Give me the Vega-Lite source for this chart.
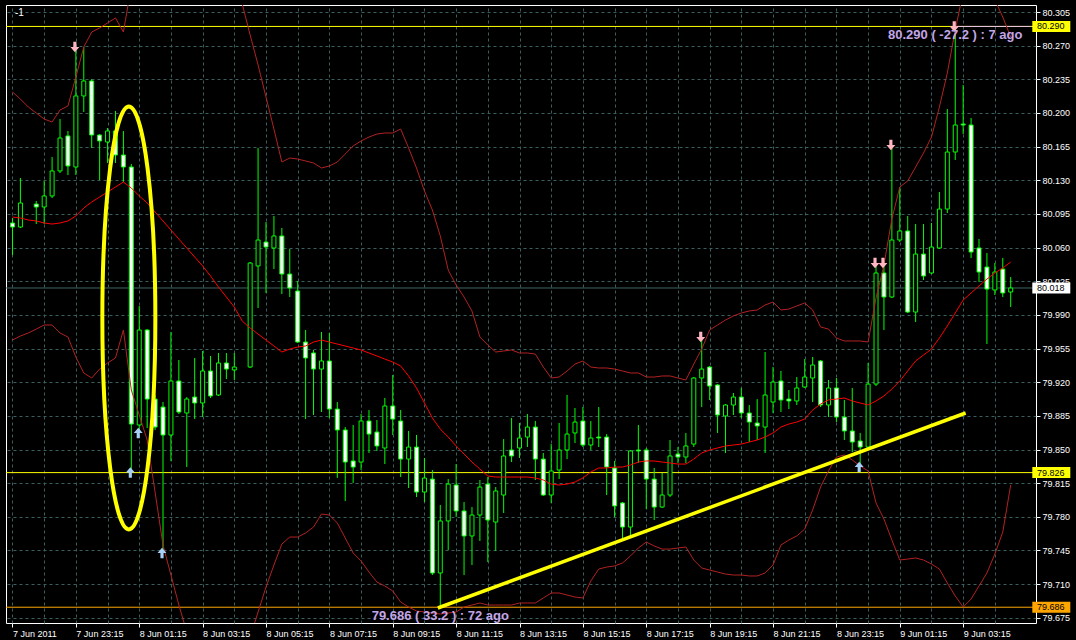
{
"$schema":"https://vega.github.io/schema/vega-lite/v6.json",
"width":1030,"height":618,
"autosize":{"type":"none"},
"padding":{"left":6,"top":5,"right":40,"bottom":17},
"background":"#000000",
"config":{"view":{"stroke":"#FFFFFF","strokeWidth":1,"fill":"#000000"}},
"datasets":{
"c":[
{"t":"2011-06-07T21:15","o":80.0856,"h":80.0908,"l":80.0523,"c":80.0814,"u":80.2218,"m":80.0918,"b":79.9639},
{"t":"2011-06-07T21:30","o":80.0814,"h":80.1324,"l":80.0804,"c":80.1064,"u":80.2145,"m":80.0908,"b":79.9681},
{"t":"2011-06-07T21:45","o":null,"h":null,"l":null,"c":null,"u":80.2062,"m":80.0887,"b":79.9712},
{"t":"2011-06-07T22:00","o":80.1053,"h":80.1085,"l":80.0845,"c":80.1022,"u":80.2,"m":80.0877,"b":79.9753},
{"t":"2011-06-07T22:15","o":80.1022,"h":80.1293,"l":80.0845,"c":80.1137,"u":80.1937,"m":80.0856,"b":79.9795},
{"t":"2011-06-07T22:30","o":80.1137,"h":80.1542,"l":80.1116,"c":80.1397,"u":80.1906,"m":80.0845,"b":79.9795},
{"t":"2011-06-07T22:45","o":80.1397,"h":80.1937,"l":80.1376,"c":80.174,"u":80.2031,"m":80.0856,"b":79.9712},
{"t":"2011-06-07T23:00","o":80.1761,"h":80.1813,"l":80.1355,"c":80.1449,"u":80.2073,"m":80.0877,"b":79.967},
{"t":"2011-06-07T23:15","o":80.1438,"h":80.2686,"l":80.1355,"c":80.2177,"u":80.2374,"m":80.0929,"b":79.9462},
{"t":"2011-06-07T23:30","o":80.2177,"h":80.2686,"l":80.201,"c":80.2333,"u":80.2686,"m":80.1012,"b":79.9296},
{"t":"2011-06-07T23:45","o":80.2333,"h":80.2353,"l":80.1636,"c":80.1771,"u":80.2842,"m":80.1074,"b":79.9244},
{"t":"2011-06-08T00:00","o":80.1771,"h":80.1781,"l":80.1303,"c":80.1709,"u":80.2884,"m":80.1126,"b":79.9337},
{"t":"2011-06-08T00:15","o":80.1698,"h":80.1844,"l":80.148,"c":80.1813,"u":80.2936,"m":80.1178,"b":79.94},
{"t":"2011-06-08T00:30","o":80.1813,"h":80.2021,"l":80.148,"c":80.1563,"u":80.2988,"m":80.123,"b":79.9452},
{"t":"2011-06-08T00:45","o":80.1563,"h":80.1813,"l":80.1282,"c":80.1438,"u":80.2842,"m":80.1282,"b":79.9743},
{"t":"2011-06-08T01:00","o":80.1438,"h":80.1469,"l":79.826,"c":79.8765,"u":80.3321,"m":80.122,"b":79.9119},
{"t":"2011-06-08T01:15","o":79.8755,"h":79.9993,"l":79.8672,"c":79.9743,"u":80.3445,"m":80.1137,"b":79.8859},
{"t":"2011-06-08T01:30","o":79.9743,"h":79.9753,"l":79.8724,"c":79.9025,"u":80.3539,"m":80.1064,"b":79.8599},
{"t":"2011-06-08T01:45","o":79.9025,"h":79.9067,"l":79.8703,"c":79.8734,"u":80.3851,"m":80.097,"b":79.8058},
{"t":"2011-06-08T02:00","o":79.8942,"h":79.8994,"l":79.7424,"c":79.8651,"u":80.4215,"m":80.0877,"b":79.7507},
{"t":"2011-06-08T02:15","o":79.8651,"h":79.9722,"l":79.8381,"c":79.9213,"u":80.4319,"m":80.0783,"b":79.7195},
{"t":"2011-06-08T02:30","o":79.9213,"h":79.9431,"l":79.8869,"c":79.889,"u":80.4423,"m":80.0689,"b":79.6883},
{"t":"2011-06-08T02:45","o":79.888,"h":79.9046,"l":79.8318,"c":79.9025,"u":80.4506,"m":80.0596,"b":79.6602},
{"t":"2011-06-08T03:00","o":79.9046,"h":79.9452,"l":79.8817,"c":79.8984,"u":80.4475,"m":80.0502,"b":79.6467},
{"t":"2011-06-08T03:15","o":79.8984,"h":79.9525,"l":79.8838,"c":79.9317,"u":80.4371,"m":80.0409,"b":79.6363},
{"t":"2011-06-08T03:30","o":79.9317,"h":79.9473,"l":79.9036,"c":79.9057,"u":80.4215,"m":80.0305,"b":79.6311},
{"t":"2011-06-08T03:45","o":79.9067,"h":79.9504,"l":79.9057,"c":79.94,"u":80.4007,"m":80.019,"b":79.6311},
{"t":"2011-06-08T04:00","o":79.94,"h":79.9504,"l":79.9233,"c":79.9337,"u":80.3747,"m":80.0086,"b":79.6363},
{"t":"2011-06-08T04:15","o":79.9327,"h":79.9504,"l":79.9223,"c":79.9358,"u":80.3435,"m":79.9982,"b":79.6436},
{"t":"2011-06-08T04:30","o":null,"h":null,"l":null,"c":null,"u":80.3133,"m":79.9837,"b":79.6519},
{"t":"2011-06-08T04:45","o":79.9358,"h":80.045,"l":79.9348,"c":80.044,"u":80.2811,"m":79.9764,"b":79.655},
{"t":"2011-06-08T05:00","o":80.0409,"h":80.1636,"l":79.9972,"c":80.0679,"u":80.2499,"m":79.9701,"b":79.681},
{"t":"2011-06-08T05:15","o":80.0658,"h":80.0866,"l":80.0128,"c":80.0606,"u":80.2166,"m":79.9639,"b":79.707},
{"t":"2011-06-08T05:30","o":80.0596,"h":80.0929,"l":80.0377,"c":80.0721,"u":80.1833,"m":79.9577,"b":79.7299},
{"t":"2011-06-08T05:45","o":80.0721,"h":80.0804,"l":80.0117,"c":80.0325,"u":80.149,"m":79.9514,"b":79.7517},
{"t":"2011-06-08T06:00","o":80.0325,"h":80.0585,"l":80.0086,"c":80.018,"u":80.1532,"m":79.9545,"b":79.759},
{"t":"2011-06-08T06:15","o":80.0149,"h":80.0253,"l":79.9608,"c":79.9618,"u":80.1521,"m":79.9566,"b":79.759},
{"t":"2011-06-08T06:30","o":79.9618,"h":79.9743,"l":79.8817,"c":79.9452,"u":80.1501,"m":79.9577,"b":79.7632},
{"t":"2011-06-08T06:45","o":79.9504,"h":79.9535,"l":79.8859,"c":79.9337,"u":80.148,"m":79.9618,"b":79.7694},
{"t":"2011-06-08T07:00","o":79.9337,"h":79.9722,"l":79.889,"c":79.9421,"u":80.1428,"m":79.9639,"b":79.7829},
{"t":"2011-06-08T07:15","o":79.9421,"h":79.9712,"l":79.8828,"c":79.8921,"u":80.1449,"m":79.9618,"b":79.7819},
{"t":"2011-06-08T07:30","o":79.8921,"h":79.8994,"l":79.8204,"c":79.8703,"u":80.149,"m":79.9597,"b":79.7736},
{"t":"2011-06-08T07:45","o":79.8703,"h":79.8734,"l":79.7965,"c":79.837,"u":80.1573,"m":79.9577,"b":79.758},
{"t":"2011-06-08T08:00","o":79.8381,"h":79.8755,"l":79.8152,"c":79.8318,"u":80.1657,"m":79.9556,"b":79.7424},
{"t":"2011-06-08T08:15","o":79.837,"h":79.8869,"l":79.8287,"c":79.8797,"u":80.1709,"m":79.9535,"b":79.7341},
{"t":"2011-06-08T08:30","o":79.8797,"h":79.8911,"l":79.8464,"c":79.8661,"u":80.175,"m":79.9504,"b":79.7226},
{"t":"2011-06-08T08:45","o":79.8682,"h":79.8807,"l":79.8485,"c":79.8537,"u":80.1781,"m":79.9473,"b":79.7122},
{"t":"2011-06-08T09:00","o":79.8516,"h":79.9036,"l":79.8349,"c":79.8953,"u":80.1792,"m":79.9441,"b":79.7081},
{"t":"2011-06-08T09:15","o":79.8953,"h":79.9275,"l":79.8651,"c":79.8817,"u":80.1792,"m":79.941,"b":79.7029},
{"t":"2011-06-08T09:30","o":79.8797,"h":79.8911,"l":79.8214,"c":79.8401,"u":80.1833,"m":79.9369,"b":79.6914},
{"t":"2011-06-08T09:45","o":79.8401,"h":79.8693,"l":79.81,"c":79.8526,"u":80.1636,"m":79.9265,"b":79.6862},
{"t":"2011-06-08T10:00","o":79.8526,"h":79.8651,"l":79.8006,"c":79.8058,"u":80.1428,"m":79.914,"b":79.6821},
{"t":"2011-06-08T10:15","o":79.8058,"h":79.8412,"l":79.7954,"c":79.8204,"u":80.1189,"m":79.8984,"b":79.681},
{"t":"2011-06-08T10:30","o":79.8193,"h":79.8287,"l":79.7195,"c":79.7216,"u":80.0991,"m":79.8828,"b":79.68},
{"t":"2011-06-08T10:45","o":79.7216,"h":79.7923,"l":79.686,"c":79.7757,"u":80.0721,"m":79.8713,"b":79.6789},
{"t":"2011-06-08T11:00","o":79.7757,"h":79.8193,"l":79.7455,"c":79.8141,"u":80.0367,"m":79.863,"b":79.68},
{"t":"2011-06-08T11:15","o":79.8131,"h":79.8349,"l":79.7798,"c":79.7861,"u":80.0211,"m":79.8537,"b":79.681},
{"t":"2011-06-08T11:30","o":79.7861,"h":79.7954,"l":79.7195,"c":79.7601,"u":80.0086,"m":79.8453,"b":79.6862},
{"t":"2011-06-08T11:45","o":79.7601,"h":79.7902,"l":79.7299,"c":79.7819,"u":79.9941,"m":79.837,"b":79.6883},
{"t":"2011-06-08T12:00","o":79.7819,"h":79.8183,"l":79.7549,"c":79.811,"u":79.967,"m":79.8297,"b":79.6904},
{"t":"2011-06-08T12:15","o":79.8141,"h":79.8214,"l":79.733,"c":79.7767,"u":79.9587,"m":79.8225,"b":79.6883},
{"t":"2011-06-08T12:30","o":79.7746,"h":79.811,"l":79.7445,"c":79.8069,"u":79.9514,"m":79.8214,"b":79.6883},
{"t":"2011-06-08T12:45","o":79.8027,"h":79.8609,"l":79.784,"c":79.8433,"u":79.9525,"m":79.8214,"b":79.6883},
{"t":"2011-06-08T13:00","o":79.8495,"h":79.8828,"l":79.837,"c":79.8433,"u":79.9535,"m":79.8214,"b":79.6883},
{"t":"2011-06-08T13:15","o":79.8516,"h":79.8776,"l":79.8412,"c":79.862,"u":79.9504,"m":79.8214,"b":79.6904},
{"t":"2011-06-08T13:30","o":79.863,"h":79.8869,"l":79.8526,"c":79.8734,"u":79.9504,"m":79.8214,"b":79.6904},
{"t":"2011-06-08T13:45","o":79.8734,"h":79.8797,"l":79.8183,"c":79.8401,"u":79.9493,"m":79.8204,"b":79.6904},
{"t":"2011-06-08T14:00","o":79.8401,"h":79.8464,"l":79.8017,"c":79.8027,"u":79.9358,"m":79.8183,"b":79.6956},
{"t":"2011-06-08T14:15","o":79.8027,"h":79.8557,"l":79.7944,"c":79.8277,"u":79.9244,"m":79.8141,"b":79.7008},
{"t":"2011-06-08T14:30","o":79.8287,"h":79.8776,"l":79.8193,"c":79.8495,"u":79.9254,"m":79.8131,"b":79.7008},
{"t":"2011-06-08T14:45","o":79.8495,"h":79.9067,"l":79.8401,"c":79.8661,"u":79.9317,"m":79.8141,"b":79.6987},
{"t":"2011-06-08T15:00","o":79.8672,"h":79.8932,"l":79.8568,"c":79.8786,"u":79.9389,"m":79.8162,"b":79.6966},
{"t":"2011-06-08T15:15","o":79.8797,"h":79.8942,"l":79.8526,"c":79.8547,"u":79.9421,"m":79.8204,"b":79.6956},
{"t":"2011-06-08T15:30","o":79.8547,"h":79.8797,"l":79.8495,"c":79.862,"u":79.9358,"m":79.8266,"b":79.7133},
{"t":"2011-06-08T15:45","o":79.863,"h":79.8942,"l":79.8526,"c":79.862,"u":79.9348,"m":79.8308,"b":79.7257},
{"t":"2011-06-08T16:00","o":79.863,"h":79.8661,"l":79.8027,"c":79.8318,"u":79.9348,"m":79.8308,"b":79.7278},
{"t":"2011-06-08T16:15","o":79.8308,"h":79.8381,"l":79.7798,"c":79.7913,"u":79.9337,"m":79.8318,"b":79.7289},
{"t":"2011-06-08T16:30","o":79.7944,"h":79.7954,"l":79.7559,"c":79.7694,"u":79.9317,"m":79.8318,"b":79.732},
{"t":"2011-06-08T16:45","o":79.7694,"h":79.8495,"l":79.759,"c":79.8485,"u":79.9296,"m":79.8339,"b":79.7393},
{"t":"2011-06-08T17:00","o":79.8495,"h":79.8755,"l":79.836,"c":79.8485,"u":79.9296,"m":79.837,"b":79.7476},
{"t":"2011-06-08T17:15","o":79.8495,"h":79.8516,"l":79.7881,"c":79.8193,"u":79.9254,"m":79.8381,"b":79.7538},
{"t":"2011-06-08T17:30","o":79.8193,"h":79.8308,"l":79.7767,"c":79.7902,"u":79.9254,"m":79.8381,"b":79.7497},
{"t":"2011-06-08T17:45","o":79.7902,"h":79.8256,"l":79.7892,"c":79.8027,"u":79.9265,"m":79.837,"b":79.7465},
{"t":"2011-06-08T18:00","o":79.8027,"h":79.8599,"l":79.8006,"c":79.8433,"u":79.9265,"m":79.836,"b":79.7465},
{"t":"2011-06-08T18:15","o":79.8453,"h":79.8526,"l":79.836,"c":79.8422,"u":79.9244,"m":79.8349,"b":79.7476},
{"t":"2011-06-08T18:30","o":79.8422,"h":79.8672,"l":79.836,"c":79.8537,"u":79.9223,"m":79.8349,"b":79.7486},
{"t":"2011-06-08T18:45","o":79.8557,"h":79.9254,"l":79.8526,"c":79.9244,"u":79.9389,"m":79.8401,"b":79.7351},
{"t":"2011-06-08T19:00","o":79.9244,"h":79.967,"l":79.8942,"c":79.9337,"u":79.9545,"m":79.8464,"b":79.7268},
{"t":"2011-06-08T19:15","o":79.9358,"h":79.9369,"l":79.9015,"c":79.916,"u":79.9743,"m":79.8495,"b":79.7247},
{"t":"2011-06-08T19:30","o":79.9171,"h":79.9181,"l":79.8672,"c":79.8859,"u":79.9795,"m":79.8516,"b":79.7226},
{"t":"2011-06-08T19:45","o":79.8849,"h":79.8973,"l":79.8464,"c":79.8963,"u":79.9847,"m":79.8537,"b":79.7205},
{"t":"2011-06-08T20:00","o":79.8963,"h":79.9088,"l":79.8859,"c":79.9046,"u":79.9889,"m":79.8547,"b":79.7195},
{"t":"2011-06-08T20:15","o":79.9046,"h":79.914,"l":79.8828,"c":79.888,"u":79.992,"m":79.8557,"b":79.7195},
{"t":"2011-06-08T20:30","o":79.888,"h":79.8963,"l":79.8578,"c":79.8786,"u":79.9941,"m":79.8578,"b":79.7185},
{"t":"2011-06-08T20:45","o":79.8776,"h":79.9025,"l":79.8599,"c":79.8745,"u":79.9951,"m":79.8599,"b":79.7185},
{"t":"2011-06-08T21:00","o":79.8734,"h":79.9514,"l":79.8464,"c":79.9067,"u":80.0003,"m":79.863,"b":79.7216},
{"t":"2011-06-08T21:15","o":79.8994,"h":79.9358,"l":79.888,"c":79.9202,"u":80.0034,"m":79.8672,"b":79.7299},
{"t":"2011-06-08T21:30","o":79.9213,"h":79.9317,"l":79.889,"c":79.9015,"u":79.9951,"m":79.8734,"b":79.7507},
{"t":"2011-06-08T21:45","o":79.9025,"h":79.9119,"l":79.8921,"c":79.9005,"u":79.9961,"m":79.8765,"b":79.7559},
{"t":"2011-06-08T22:00","o":79.9005,"h":79.9254,"l":79.8963,"c":79.914,"u":79.9993,"m":79.8786,"b":79.7601},
{"t":"2011-06-08T22:15","o":79.915,"h":79.9441,"l":79.914,"c":79.9254,"u":80.0024,"m":79.8817,"b":79.7673},
{"t":"2011-06-08T22:30","o":79.9244,"h":79.9462,"l":79.8994,"c":79.9379,"u":79.9951,"m":79.8911,"b":79.7871},
{"t":"2011-06-08T22:45","o":79.9421,"h":79.9431,"l":79.8942,"c":79.8963,"u":79.9774,"m":79.8973,"b":79.811},
{"t":"2011-06-08T23:00","o":79.8963,"h":79.9223,"l":79.8838,"c":79.914,"u":79.9753,"m":79.9015,"b":79.8277},
{"t":"2011-06-08T23:15","o":79.914,"h":79.9244,"l":79.8786,"c":79.8838,"u":79.966,"m":79.9025,"b":79.8422},
{"t":"2011-06-08T23:30","o":79.8838,"h":79.9015,"l":79.8599,"c":79.8693,"u":79.9629,"m":79.9036,"b":79.8443},
{"t":"2011-06-08T23:45","o":79.8693,"h":79.914,"l":79.8474,"c":79.8578,"u":79.9629,"m":79.9005,"b":79.8391},
{"t":"2011-06-09T00:00","o":79.8589,"h":79.8672,"l":79.8318,"c":79.8526,"u":79.9629,"m":79.8984,"b":79.8329},
{"t":"2011-06-09T00:15","o":79.8526,"h":79.94,"l":79.8495,"c":79.9181,"u":79.9618,"m":79.8963,"b":79.8277},
{"t":"2011-06-09T00:30","o":79.9181,"h":80.044,"l":79.916,"c":80.0336,"u":80.0076,"m":79.9005,"b":79.7944},
{"t":"2011-06-09T00:45","o":80.0336,"h":80.044,"l":79.9743,"c":80.0086,"u":80.0419,"m":79.9057,"b":79.7777},
{"t":"2011-06-09T01:00","o":80.0086,"h":80.1667,"l":80.0076,"c":80.0679,"u":80.0897,"m":79.9129,"b":79.7559},
{"t":"2011-06-09T01:15","o":80.0679,"h":80.123,"l":80.0658,"c":80.0773,"u":80.123,"m":79.9213,"b":79.7351},
{"t":"2011-06-09T01:30","o":80.0773,"h":80.0929,"l":79.992,"c":79.993,"u":80.1293,"m":79.9317,"b":79.7361},
{"t":"2011-06-09T01:45","o":79.993,"h":80.0845,"l":79.9826,"c":80.0533,"u":80.1438,"m":79.9421,"b":79.7372},
{"t":"2011-06-09T02:00","o":80.0533,"h":80.0845,"l":80.0263,"c":80.0305,"u":80.1584,"m":79.9483,"b":79.7351},
{"t":"2011-06-09T02:15","o":80.0336,"h":80.0856,"l":80.0325,"c":80.0606,"u":80.175,"m":79.9545,"b":79.7309},
{"t":"2011-06-09T02:30","o":80.0596,"h":80.1178,"l":80.0585,"c":80.1001,"u":80.2062,"m":79.966,"b":79.7257},
{"t":"2011-06-09T02:45","o":80.1001,"h":80.2041,"l":80.096,"c":80.1594,"u":80.2416,"m":79.9785,"b":79.7112},
{"t":"2011-06-09T03:00","o":80.1594,"h":80.29,"l":80.1511,"c":80.1875,"u":80.2863,"m":79.992,"b":79.6977},
{"t":"2011-06-09T03:15","o":80.1885,"h":80.2291,"l":80.1781,"c":80.1875,"u":80.3258,"m":80.0055,"b":79.6862},
{"t":"2011-06-09T03:30","o":80.1875,"h":80.1948,"l":80.0492,"c":80.0554,"u":80.3383,"m":80.0128,"b":79.6945},
{"t":"2011-06-09T03:45","o":80.0596,"h":80.0689,"l":80.0242,"c":80.0346,"u":80.3404,"m":80.0201,"b":79.7081},
{"t":"2011-06-09T04:00","o":80.0398,"h":80.0544,"l":79.9597,"c":80.0169,"u":80.3331,"m":80.0273,"b":79.7216},
{"t":"2011-06-09T04:15","o":80.0159,"h":80.044,"l":80.0107,"c":80.0346,"u":80.3175,"m":80.0336,"b":79.7413},
{"t":"2011-06-09T04:30","o":80.0377,"h":80.0492,"l":80.0086,"c":80.0128,"u":80.2998,"m":80.0388,"b":79.7642},
{"t":"2011-06-09T04:45","o":80.0138,"h":80.0294,"l":79.9982,"c":80.018,"u":80.279,"m":80.045,"b":79.8131}
],
"levels":[{"p":80.29,"k":"hi"},{"p":80.018,"k":"bid"},{"p":79.826,"k":"line"},{"p":79.686,"k":"lo"}],
"downs":[{"t":"2011-06-07T23:15","p":80.2686},{"t":"2011-06-08T19:00","p":79.967},{"t":"2011-06-09T00:30","p":80.044},{"t":"2011-06-09T00:45","p":80.044},{"t":"2011-06-09T01:00","p":80.1667},{"t":"2011-06-09T03:00","p":80.29}],
"ups":[{"t":"2011-06-08T01:00","p":79.826},{"t":"2011-06-08T01:15","p":79.8672},{"t":"2011-06-08T02:00","p":79.7424},{"t":"2011-06-09T00:00","p":79.8318}],
"trend":[{"t":"2011-06-08T10:40:20","p":79.6852},{"t":"2011-06-09T03:19:41","p":79.888}],
"notes":[{"t":"2011-06-09T03:00","p":80.29,"txt":"80.290 ( -27.2 ) : 7 ago"},{"t":"2011-06-08T10:45","p":79.686,"txt":"79.686 ( 33.2 ) : 72 ago"}]
},
"data":{"name":"c"},
"layer":[
{"data":{"name":"levels"},"mark":{"type":"rule","strokeWidth":1},
 "encoding":{"y":{"field":"p","type":"quantitative","scale":{"domain":[79.6696,80.3123],"nice":false,"zero":false},"axis":null},
 "stroke":{"field":"k","type":"nominal","scale":{"domain":["hi","bid","line","lo"],"range":["#FFFF00","#3E6464","#FFFF00","#FFA500"]},"legend":null}}},
{"data":{"values":[{}]},"mark":{"type":"rule","strokeWidth":1,"color":"#E6C3E6"},
 "encoding":{"x":{"datum":{"year":2011,"month":"jun","date":9,"hours":2,"minutes":52,"seconds":30},"type":"temporal","scale":{"domain":[{"year":2011,"month":"jun","date":7,"hours":21,"minutes":12,"seconds":11,"milliseconds":250},{"year":2011,"month":"jun","date":9,"hours":5,"minutes":23,"seconds":26,"milliseconds":250}],"nice":false},"axis":null},
 "x2":{"datum":{"year":2011,"month":"jun","date":9,"hours":5,"minutes":23,"seconds":26,"milliseconds":250}},
 "y":{"datum":80.29,"type":"quantitative","scale":{"domain":[79.6696,80.3123],"nice":false,"zero":false},"axis":null}}},
{"mark":{"type":"rule","color":"#00FF00","strokeWidth":1},
 "encoding":{"x":{"field":"t","type":"temporal","scale":{"domain":[{"year":2011,"month":"jun","date":7,"hours":21,"minutes":12,"seconds":11,"milliseconds":250},{"year":2011,"month":"jun","date":9,"hours":5,"minutes":23,"seconds":26,"milliseconds":250}],"nice":false},
  "axis":{"orient":"top","grid":true,"gridColor":"#3A5F5F","gridDash":[3,3],"gridWidth":1,"labels":false,"ticks":false,"domain":false,"title":null,
   "values":[{"year":2011,"month":"jun","date":7,"hours":21,"minutes":15},{"year":2011,"month":"jun","date":7,"hours":22,"minutes":15},{"year":2011,"month":"jun","date":7,"hours":23,"minutes":15},
   {"year":2011,"month":"jun","date":8,"hours":0,"minutes":15},{"year":2011,"month":"jun","date":8,"hours":1,"minutes":15},{"year":2011,"month":"jun","date":8,"hours":2,"minutes":15},{"year":2011,"month":"jun","date":8,"hours":3,"minutes":15},{"year":2011,"month":"jun","date":8,"hours":4,"minutes":15},{"year":2011,"month":"jun","date":8,"hours":5,"minutes":15},{"year":2011,"month":"jun","date":8,"hours":6,"minutes":15},{"year":2011,"month":"jun","date":8,"hours":7,"minutes":15},{"year":2011,"month":"jun","date":8,"hours":8,"minutes":15},{"year":2011,"month":"jun","date":8,"hours":9,"minutes":15},{"year":2011,"month":"jun","date":8,"hours":10,"minutes":15},{"year":2011,"month":"jun","date":8,"hours":11,"minutes":15},{"year":2011,"month":"jun","date":8,"hours":12,"minutes":15},{"year":2011,"month":"jun","date":8,"hours":13,"minutes":15},{"year":2011,"month":"jun","date":8,"hours":14,"minutes":15},{"year":2011,"month":"jun","date":8,"hours":15,"minutes":15},{"year":2011,"month":"jun","date":8,"hours":16,"minutes":15},{"year":2011,"month":"jun","date":8,"hours":17,"minutes":15},{"year":2011,"month":"jun","date":8,"hours":18,"minutes":15},{"year":2011,"month":"jun","date":8,"hours":19,"minutes":15},{"year":2011,"month":"jun","date":8,"hours":20,"minutes":15},{"year":2011,"month":"jun","date":8,"hours":21,"minutes":15},{"year":2011,"month":"jun","date":8,"hours":22,"minutes":15},{"year":2011,"month":"jun","date":8,"hours":23,"minutes":15},
   {"year":2011,"month":"jun","date":9,"hours":0,"minutes":15},{"year":2011,"month":"jun","date":9,"hours":1,"minutes":15},{"year":2011,"month":"jun","date":9,"hours":2,"minutes":15},{"year":2011,"month":"jun","date":9,"hours":3,"minutes":15},{"year":2011,"month":"jun","date":9,"hours":4,"minutes":15}]}},
 "y":{"field":"l","type":"quantitative","scale":{"domain":[79.6696,80.3123],"nice":false,"zero":false},"axis":null},
 "y2":{"field":"h"}}},
{"mark":{"type":"bar","size":4,"stroke":"#00FF00","strokeWidth":1},
 "encoding":{"x":{"field":"t","type":"temporal","scale":{"domain":[{"year":2011,"month":"jun","date":7,"hours":21,"minutes":12,"seconds":11,"milliseconds":250},{"year":2011,"month":"jun","date":9,"hours":5,"minutes":23,"seconds":26,"milliseconds":250}],"nice":false},
  "axis":{"orient":"bottom","grid":false,"labelAlign":"left","labelBaseline":"top","labelColor":"#FFFFFF","labelFont":"Liberation Sans","labelFontSize":9,"labelPadding":2,"tickColor":"#FFFFFF","tickSize":4,"tickWidth":1,"domain":false,"title":null,"labelFlush":false,"labelOverlap":false,
   "labelExpr":"date(datum.value) == 7 && hours(datum.value) == 21 ? '7 Jun 2011' : timeFormat(datum.value, '%-d %b %H:%M')",
   "values":[{"year":2011,"month":"jun","date":7,"hours":21,"minutes":15},{"year":2011,"month":"jun","date":7,"hours":23,"minutes":15},
   {"year":2011,"month":"jun","date":8,"hours":1,"minutes":15},{"year":2011,"month":"jun","date":8,"hours":3,"minutes":15},{"year":2011,"month":"jun","date":8,"hours":5,"minutes":15},{"year":2011,"month":"jun","date":8,"hours":7,"minutes":15},{"year":2011,"month":"jun","date":8,"hours":9,"minutes":15},{"year":2011,"month":"jun","date":8,"hours":11,"minutes":15},{"year":2011,"month":"jun","date":8,"hours":13,"minutes":15},{"year":2011,"month":"jun","date":8,"hours":15,"minutes":15},{"year":2011,"month":"jun","date":8,"hours":17,"minutes":15},{"year":2011,"month":"jun","date":8,"hours":19,"minutes":15},{"year":2011,"month":"jun","date":8,"hours":21,"minutes":15},{"year":2011,"month":"jun","date":8,"hours":23,"minutes":15},
   {"year":2011,"month":"jun","date":9,"hours":1,"minutes":15},{"year":2011,"month":"jun","date":9,"hours":3,"minutes":15}]}},
 "y":{"field":"o","type":"quantitative","scale":{"domain":[79.6696,80.3123],"nice":false,"zero":false},
  "axis":{"orient":"right","values":[79.675,79.71,79.745,79.78,79.815,79.85,79.885,79.92,79.955,79.99,80.025,80.06,80.095,80.13,80.165,80.2,80.235,80.27,80.305],"format":".3f","labelColor":"#FFFFFF","labelFont":"Liberation Sans","labelFontSize":9,"labelPadding":2,"tickColor":"#FFFFFF","tickSize":4,"tickWidth":1,"domain":false,"grid":true,"gridColor":"#3A5F5F","gridDash":[3,3],"gridWidth":1,"title":null,"labelOverlap":false,"labelFlush":false}},
 "y2":{"field":"c"},
 "fill":{"condition":{"test":"datum.c < datum.o","value":"#FFFFFF"},"value":"#000000"}}},
{"mark":{"type":"line","color":"#B22222","strokeWidth":1,"clip":true},
 "encoding":{"x":{"field":"t","type":"temporal","scale":{"domain":[{"year":2011,"month":"jun","date":7,"hours":21,"minutes":12,"seconds":11,"milliseconds":250},{"year":2011,"month":"jun","date":9,"hours":5,"minutes":23,"seconds":26,"milliseconds":250}],"nice":false},"axis":null},
 "y":{"field":"u","type":"quantitative","scale":{"domain":[79.6696,80.3123],"nice":false,"zero":false},"axis":null}}},
{"mark":{"type":"line","color":"#B22222","strokeWidth":1,"clip":true},
 "encoding":{"x":{"field":"t","type":"temporal","scale":{"domain":[{"year":2011,"month":"jun","date":7,"hours":21,"minutes":12,"seconds":11,"milliseconds":250},{"year":2011,"month":"jun","date":9,"hours":5,"minutes":23,"seconds":26,"milliseconds":250}],"nice":false},"axis":null},
 "y":{"field":"b","type":"quantitative","scale":{"domain":[79.6696,80.3123],"nice":false,"zero":false},"axis":null}}},
{"mark":{"type":"line","color":"#FF0000","strokeWidth":1,"clip":true},
 "encoding":{"x":{"field":"t","type":"temporal","scale":{"domain":[{"year":2011,"month":"jun","date":7,"hours":21,"minutes":12,"seconds":11,"milliseconds":250},{"year":2011,"month":"jun","date":9,"hours":5,"minutes":23,"seconds":26,"milliseconds":250}],"nice":false},"axis":null},
 "y":{"field":"m","type":"quantitative","scale":{"domain":[79.6696,80.3123],"nice":false,"zero":false},"axis":null}}},
{"data":{"name":"downs"},"mark":{"type":"point","filled":true,"opacity":1,"size":110,"color":"#FFB6C1","xOffset":-1,"shape":"M-0.3,-1L0.3,-1L0.3,0L0.85,0L0,1L-0.85,0L-0.3,0Z"},
 "encoding":{"x":{"field":"t","type":"temporal","scale":{"domain":[{"year":2011,"month":"jun","date":7,"hours":21,"minutes":12,"seconds":11,"milliseconds":250},{"year":2011,"month":"jun","date":9,"hours":5,"minutes":23,"seconds":26,"milliseconds":250}],"nice":false},"axis":null},
 "y":{"field":"p","type":"quantitative","scale":{"domain":[79.6696,80.3123],"nice":false,"zero":false},"axis":null}}},
{"data":{"name":"ups"},"mark":{"type":"point","filled":true,"opacity":1,"size":110,"color":"#A8CFF5","xOffset":-1,"shape":"M-0.3,1L0.3,1L0.3,0L0.85,0L0,-1L-0.85,0L-0.3,0Z"},
 "encoding":{"x":{"field":"t","type":"temporal","scale":{"domain":[{"year":2011,"month":"jun","date":7,"hours":21,"minutes":12,"seconds":11,"milliseconds":250},{"year":2011,"month":"jun","date":9,"hours":5,"minutes":23,"seconds":26,"milliseconds":250}],"nice":false},"axis":null},
 "y":{"field":"p","type":"quantitative","scale":{"domain":[79.6696,80.3123],"nice":false,"zero":false},"axis":null}}},
{"data":{"name":"trend"},"mark":{"type":"line","color":"#FFFF00","strokeWidth":3.5},
 "encoding":{"x":{"field":"t","type":"temporal","scale":{"domain":[{"year":2011,"month":"jun","date":7,"hours":21,"minutes":12,"seconds":11,"milliseconds":250},{"year":2011,"month":"jun","date":9,"hours":5,"minutes":23,"seconds":26,"milliseconds":250}],"nice":false},"axis":null},
 "y":{"field":"p","type":"quantitative","scale":{"domain":[79.6696,80.3123],"nice":false,"zero":false},"axis":null}}},
{"data":{"values":[{}]},"mark":{"type":"point","filled":false,"opacity":1,"stroke":"#FFFF00","strokeWidth":4,"size":178929,
  "shape":"M0,-1C0.0692,-1,0.1253,-0.5523,0.1253,0C0.1253,0.5523,0.0692,1,0,1C-0.0692,1,-0.1253,0.5523,-0.1253,0C-0.1253,-0.5523,-0.0692,-1,0,-1Z"},
 "encoding":{"x":{"datum":{"year":2011,"month":"jun","date":8,"hours":0,"minutes":55,"seconds":19},"type":"temporal","scale":{"domain":[{"year":2011,"month":"jun","date":7,"hours":21,"minutes":12,"seconds":11,"milliseconds":250},{"year":2011,"month":"jun","date":9,"hours":5,"minutes":23,"seconds":26,"milliseconds":250}],"nice":false},"axis":null},
 "y":{"datum":79.9868,"type":"quantitative","scale":{"domain":[79.6696,80.3123],"nice":false,"zero":false},"axis":null}}},
{"data":{"name":"notes"},"mark":{"type":"text","font":"Liberation Sans","fontSize":13,"fontWeight":"bold","color":"#C3A6E6","align":"center","baseline":"middle","dy":8.5},
 "encoding":{"x":{"field":"t","type":"temporal","scale":{"domain":[{"year":2011,"month":"jun","date":7,"hours":21,"minutes":12,"seconds":11,"milliseconds":250},{"year":2011,"month":"jun","date":9,"hours":5,"minutes":23,"seconds":26,"milliseconds":250}],"nice":false},"axis":null},
 "y":{"field":"p","type":"quantitative","scale":{"domain":[79.6696,80.3123],"nice":false,"zero":false},"axis":null},
 "text":{"field":"txt"}}},
{"data":{"values":[{}]},"mark":{"type":"text","text":"-1","font":"Liberation Sans","fontSize":10,"color":"#FFFFFF","align":"left","baseline":"middle"},
 "encoding":{"x":{"datum":{"year":2011,"month":"jun","date":7,"hours":21,"minutes":19,"seconds":41},"type":"temporal","scale":{"domain":[{"year":2011,"month":"jun","date":7,"hours":21,"minutes":12,"seconds":11,"milliseconds":250},{"year":2011,"month":"jun","date":9,"hours":5,"minutes":23,"seconds":26,"milliseconds":250}],"nice":false},"axis":null},
 "y":{"datum":80.304,"type":"quantitative","scale":{"domain":[79.6696,80.3123],"nice":false,"zero":false},"axis":null}}},
{"data":{"name":"levels"},"mark":{"type":"point","filled":true,"opacity":1,"size":1444,"shape":"M-1,-0.29L1,-0.29L1,0.29L-1,0.29Z","strokeWidth":0},
 "encoding":{"x":{"datum":{"year":2011,"month":"jun","date":9,"hours":6,"minutes":1,"seconds":53},"type":"temporal","scale":{"domain":[{"year":2011,"month":"jun","date":7,"hours":21,"minutes":12,"seconds":11,"milliseconds":250},{"year":2011,"month":"jun","date":9,"hours":5,"minutes":23,"seconds":26,"milliseconds":250}],"nice":false},"axis":null},
 "y":{"field":"p","type":"quantitative","scale":{"domain":[79.6696,80.3123],"nice":false,"zero":false},"axis":null},
 "fill":{"field":"k","type":"nominal","scale":{"domain":["hi","bid","line","lo"],"range":["#FFFF00","#FFFFFF","#FFFF00","#FFA500"]},"legend":null}}},
{"data":{"name":"levels"},"mark":{"type":"text","font":"Liberation Sans","fontSize":9,"color":"#000000","align":"left","baseline":"middle"},
 "encoding":{"x":{"datum":{"year":2011,"month":"jun","date":9,"hours":5,"minutes":34,"seconds":41},"type":"temporal","scale":{"domain":[{"year":2011,"month":"jun","date":7,"hours":21,"minutes":12,"seconds":11,"milliseconds":250},{"year":2011,"month":"jun","date":9,"hours":5,"minutes":23,"seconds":26,"milliseconds":250}],"nice":false},"axis":null},
 "y":{"field":"p","type":"quantitative","scale":{"domain":[79.6696,80.3123],"nice":false,"zero":false},"axis":null},
 "text":{"field":"p","type":"quantitative","format":".3f"}}}
],
"resolve":{"axis":{"x":"independent","y":"independent"}}
}
